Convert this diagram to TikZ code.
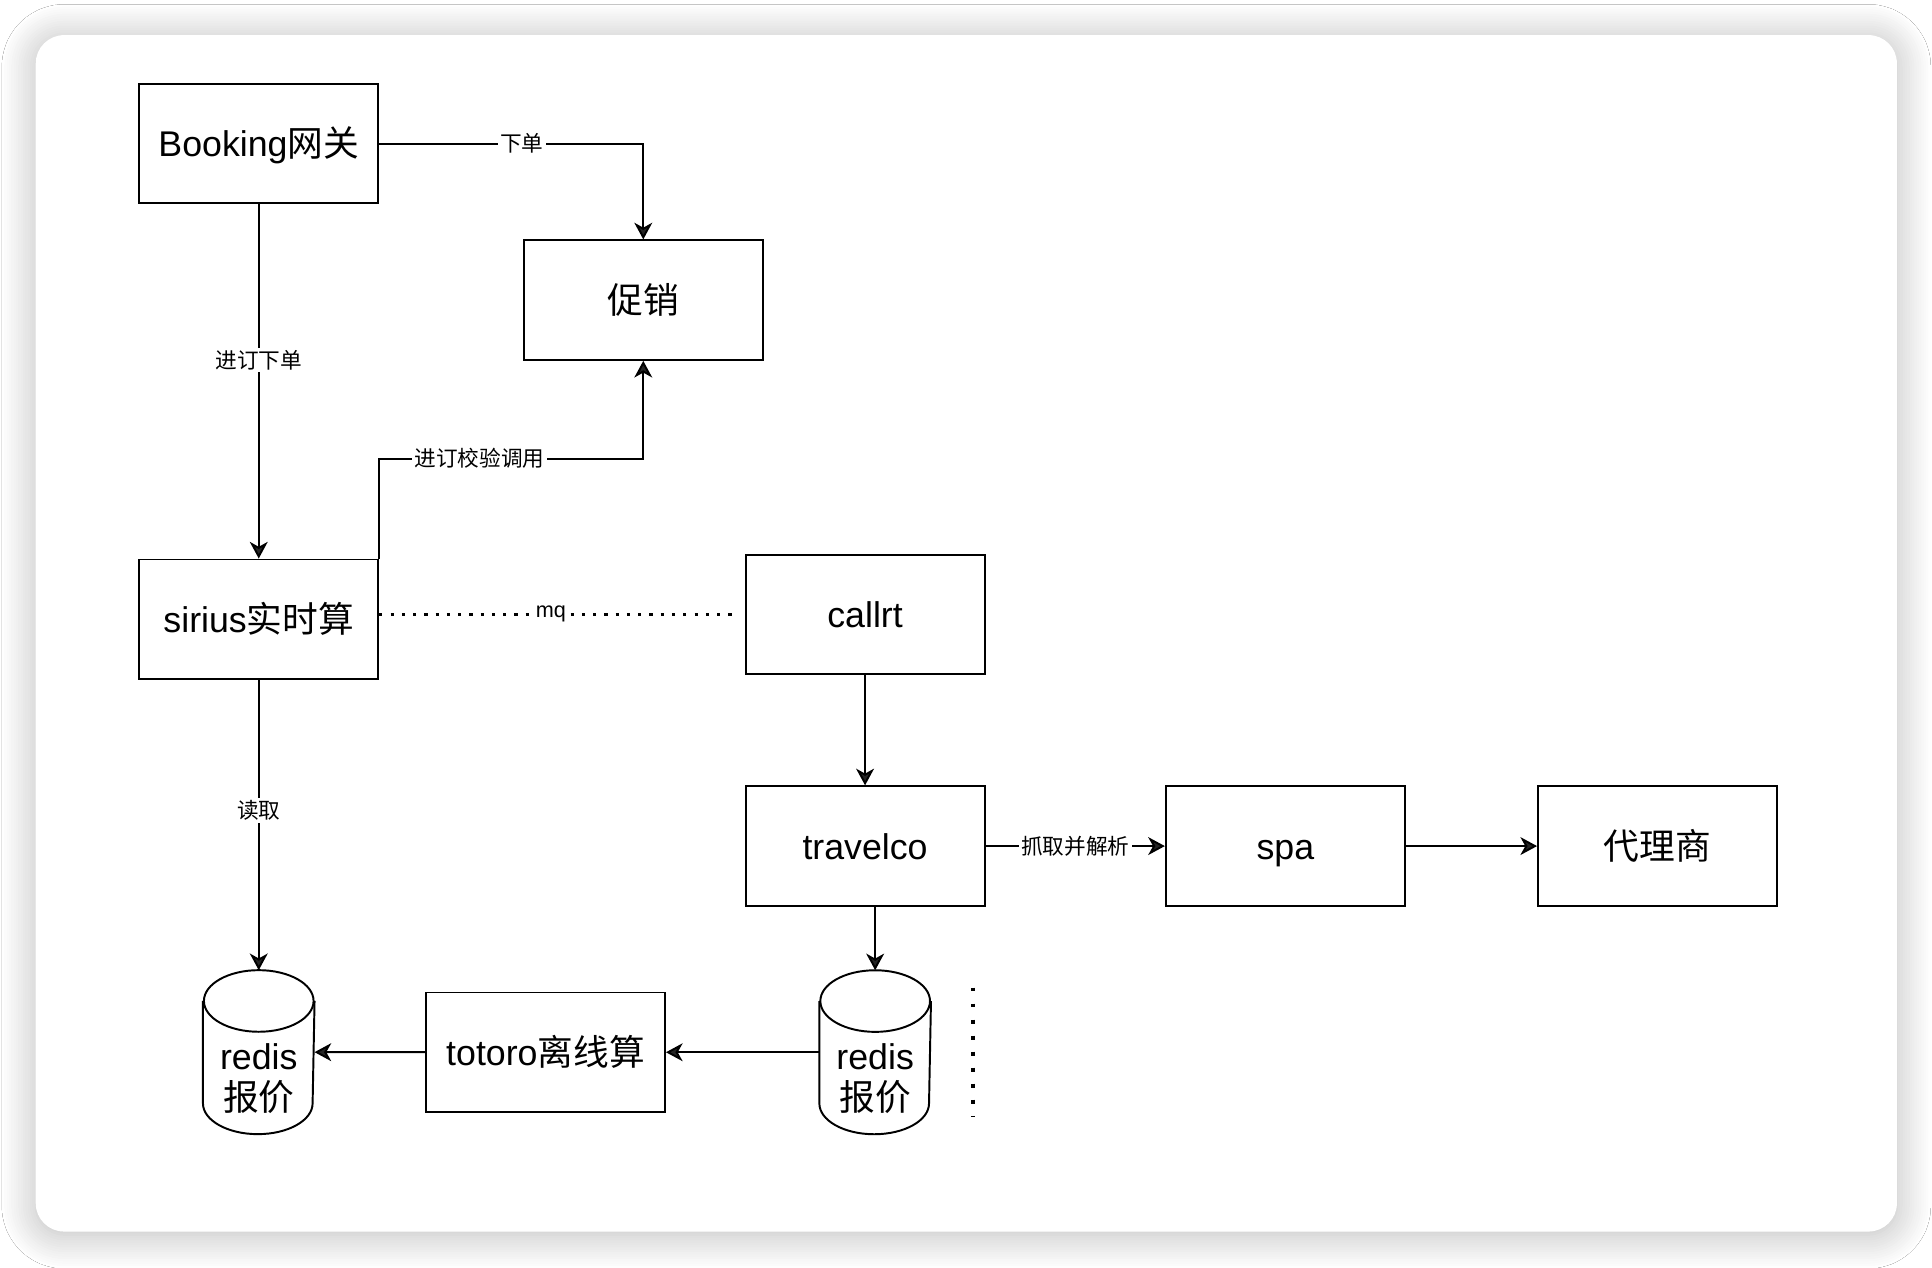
\documentclass[tikz,border=0pt]{standalone}
\usepackage{fontspec}
\setmainfont{Liberation Sans}
\newfontfamily\zhfont{Noto Sans CJK SC}
\usepackage{xcolor}
\usepackage{tikz}
\usetikzlibrary{arrows.meta, positioning, calc, shadows.blur}

\begin{document}
\begin{tikzpicture}[
    >={Stealth[length=2.7mm, width=2.9mm, inset=0.8mm]},
    line width=0.9pt,
    block/.style={rectangle, draw, fill=white, minimum width=38.8mm,
                  minimum height=19.4mm, font=\fontsize{16.5}{19.5}\selectfont,
                  text height=14pt, text depth=2pt, align=center},
    store/.style={rectangle, minimum width=17.8mm, minimum height=26.3mm, inner sep=0pt,
                  font=\fontsize{16.5}{17}\selectfont,
                  append after command={\pgfextra{\let\storenode=\tikzlastnode
                      \draw ([yshift=-5mm]\storenode.north) ellipse (8.9mm and 5mm);
                      \draw ([yshift=-5mm]\storenode.north west)
                          -- ([yshift=5mm]\storenode.south west)
                          arc (180:360:8.9mm and 5mm)
                          -- ([yshift=-5mm]\storenode.north east);}}},
    tag/.style={fill=white, inner sep=1pt, font=\fontsize{10}{12}\selectfont},
    mqline/.style={dash pattern=on 1.5pt off 3.7pt, line width=1.5pt},
    moreline/.style={dash pattern=on 1.8pt off 5.6pt, line width=1.8pt},
]
    % Card
    \useasboundingbox[fill=white] (-42mm,23.3mm) rectangle (271.6mm,-182.5mm);
    \fill[white, rounded corners=4.6mm,
          blur shadow={shadow xshift=0mm, shadow yshift=-0.5mm, shadow blur steps=15,
                       shadow blur radius=5.5mm, shadow opacity=28}]
        (-36.2mm,17.6mm) rectangle (265.9mm,-176.6mm);

    % Online path
    \node[block] (booking) {Booking{\zhfont 网关}};
    \node[block, below right=5.7mm and 23.3mm of booking] (promo) {\zhfont 促销};
    \node[block, below=57.5mm of booking] (sirius) {sirius{\zhfont 实时算}};

    \draw[->] (booking) -- node[tag, pos=0.44] {\zhfont 进订下单} (sirius);
    \draw[->] (booking.east) -| node[tag, pos=0.27] {\zhfont 下单} (promo.north);
    \draw[->] (sirius.north east) -- ++(0,16.2mm) -| node[tag, pos=0.19]
         {\zhfont 进订校验调用} (promo.south);

    % Crawl path
    \node[block, right=59.3mm of sirius, yshift=0.8mm] (callrt) {callrt};
    \node[block, below=17.9mm of callrt] (travelco) {travelco};
    \node[block, right=29.1mm of travelco] (spa) {spa};
    \node[block, right=21.3mm of spa] (agent) {\zhfont 代理商};

    \draw[mqline, shorten >=1.2mm] (sirius.east |- callrt.west) -- node[tag, pos=0.47]
         {mq} (callrt.west);
    \draw[->] (callrt) -- (travelco);
    \draw[->] (travelco) -- node[tag] {\zhfont 抓取并解析} (spa);
    \draw[->] (spa) -- (agent);

    % Offline path
    \node[store, below=47.1mm of sirius] (redisA)
         {\raisebox{-18.5pt}[0pt][0pt]{\begin{tabular}{@{}c@{}}redis\\{\zhfont 报价}\end{tabular}}};
    \node[store, below=10.3mm of travelco, xshift=1.64mm] (redisB)
         {\raisebox{-18.5pt}[0pt][0pt]{\begin{tabular}{@{}c@{}}redis\\{\zhfont 报价}\end{tabular}}};
    \node[block, left=24.9mm of redisB] (totoro) {totoro{\zhfont 离线算}};

    \draw[->] (sirius) -- node[tag, pos=0.45] {\zhfont 读取} (redisA);
    \draw[->] (travelco.south -| redisB.north) -- (redisB.north);
    \draw[->] (redisB) -- (totoro);
    \draw[->] (totoro) -- (redisA);

    \coordinate (moreA) at ($(redisB.east)+(6.8mm,10.5mm)$);
    \coordinate (moreB) at ($(redisB.east)+(6.8mm,-10.5mm)$);
    \draw[moreline] (moreA) -- (moreB);
\end{tikzpicture}
\end{document}
